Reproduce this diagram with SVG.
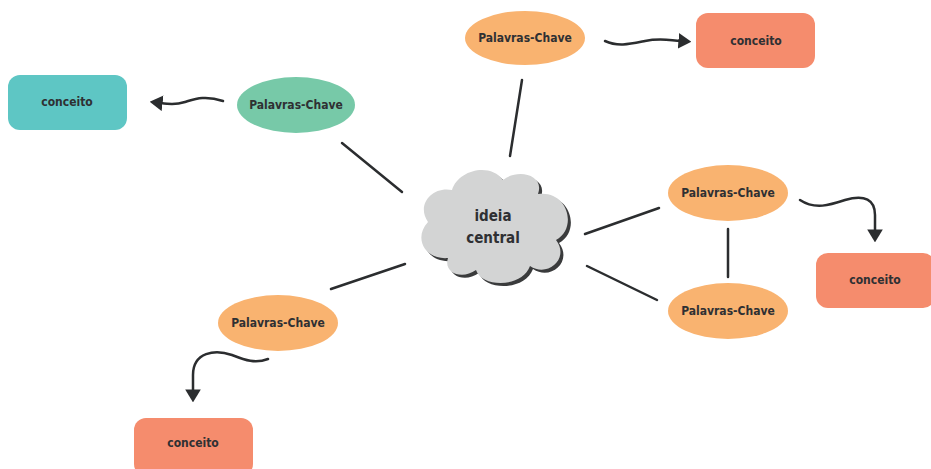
<svg xmlns="http://www.w3.org/2000/svg" width="931" height="469" viewBox="0 0 931 469">
<defs>
<marker id="ah2" viewBox="0 0 10 12" refX="2" refY="6" markerWidth="13" markerHeight="16" orient="auto" markerUnits="userSpaceOnUse">
<path d="M0,0 L10,6 L0,12 Z" fill="#2b2d2f"/>
</marker>
</defs>
<style>
.t{font-family:"DejaVu Sans Condensed","DejaVu Sans",sans-serif;font-weight:bold;font-size:12px;fill:#2f3033;text-anchor:middle;dominant-baseline:central}
.line{stroke:#2b2d2f;stroke-width:2.5;fill:none;stroke-linecap:round}
.arr{stroke:#2b2d2f;stroke-width:2.5;fill:none;stroke-linecap:round;marker-end:url(#ah2)}
.org{fill:#f9b370}
.rect{fill:#f58c6d}
</style>
<rect width="931" height="469" fill="#ffffff"/>
<g id="connectors">
<line class="line" x1="342" y1="143" x2="402" y2="192"/>
<line class="line" x1="522" y1="80" x2="510" y2="156"/>
<line class="line" x1="585" y1="234" x2="659" y2="208"/>
<line class="line" x1="587" y1="266" x2="657" y2="300"/>
<line class="line" x1="405" y1="264" x2="331" y2="289"/>
<line class="line" x1="728" y1="229" x2="728" y2="277"/>
<path class="arr" d="M223,101 C205,95 195,99 185,102 C175,105 168,104 160,103"/>
<path class="arr" d="M605,41 C618,47 630,44 645,41 C660,38 667,40 681,41"/>
<path class="arr" d="M800,200 C815,210 830,205 845,200 C865,194 875,200 875,215 L875,232"/>
<path class="arr" d="M268,359 C255,364 245,360 232,355 C215,349 193,352 193,375 L193,392"/>
</g>
<g id="ideia-central">
<path transform="translate(3,3)" fill="#3a3b3c" d="M448,258 C425,260 413,238 428,222 C416,205 432,186 452,190 C458,170 490,162 503,180 C518,168 545,175 538,194 C568,190 578,228 556,240 C570,258 548,278 530,266 C522,288 482,288 476,270 C462,280 443,273 448,258 Z"/>
<path fill="#d3d4d4" d="M448,258 C425,260 413,238 428,222 C416,205 432,186 452,190 C458,170 490,162 503,180 C518,168 545,175 538,194 C568,190 578,228 556,240 C570,258 548,278 530,266 C522,288 482,288 476,270 C462,280 443,273 448,258 Z"/>
<text class="t" x="493" y="216" style="font-size:15px">ideia</text>
<text class="t" x="493" y="238" style="font-size:15px">central</text>
</g>
<g id="kw-green">
<ellipse cx="296" cy="105" rx="59" ry="28" fill="#77c9a8"/>
<text class="t" x="296" y="105">Palavras-Chave</text>
</g>
<g id="c-teal">
<rect x="8" y="75" width="119" height="55" rx="12" fill="#5ec6c4"/>
<text class="t" x="67" y="102">conceito</text>
</g>
<g id="kw-top">
<ellipse class="org" cx="525" cy="38" rx="60" ry="27"/>
<text class="t" x="525" y="38">Palavras-Chave</text>
</g>
<g id="c-top">
<rect class="rect" x="696" y="13" width="119" height="55" rx="12"/>
<text class="t" x="756" y="41">conceito</text>
</g>
<g id="kw-right1">
<ellipse class="org" cx="728" cy="193" rx="60" ry="28"/>
<text class="t" x="728" y="193">Palavras-Chave</text>
</g>
<g id="kw-right2">
<ellipse class="org" cx="728" cy="311" rx="60" ry="28"/>
<text class="t" x="728" y="311">Palavras-Chave</text>
</g>
<g id="c-right">
<rect class="rect" x="816" y="253" width="119" height="55" rx="12"/>
<text class="t" x="875" y="280">conceito</text>
</g>
<g id="kw-left">
<ellipse class="org" cx="278" cy="323" rx="60" ry="28"/>
<text class="t" x="278" y="323">Palavras-Chave</text>
</g>
<g id="c-bottom">
<rect class="rect" x="134" y="418" width="119" height="58" rx="12"/>
<text class="t" x="193" y="443">conceito</text>
</g>
</svg>
